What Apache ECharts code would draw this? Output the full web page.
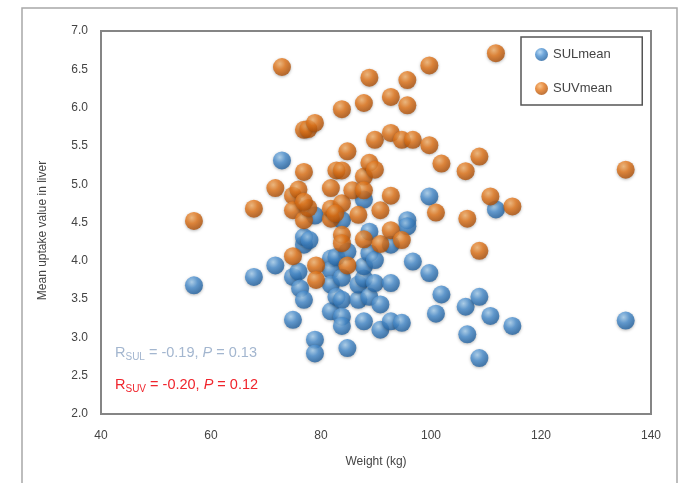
<!DOCTYPE html>
<html>
<head>
<meta charset="utf-8">
<script src="https://cdn.jsdelivr.net/npm/echarts@6/dist/echarts.min.js"></script>
<style>
html,body{margin:0;padding:0;background:#fff;}
#main{width:681px;height:483px;}
</style>
</head>
<body>
<div id="main"></div>
<script>
// 体重 (kg) / SULmean
var sulWeight = [56.9,67.8,71.7,72.9,74.9,74.9,75.9,76.2,76.9,76.9,76.9,77.9,78.9,78.9,78.9,81.8,81.8,81.8,81.8,82.8,82.8,83.8,83.8,83.8,83.8,83.8,84.8,84.8,86.8,86.8,87.8,87.8,87.8,87.8,88.8,88.8,88.8,89.8,89.8,90.8,90.8,92.7,92.7,92.7,94.7,95.7,95.7,96.7,99.7,99.7,100.9,101.9,106.3,106.6,108.8,108.8,110.8,111.8,114.8,135.4];
var sulValue  = [3.68,3.79,3.94,5.31,3.23,3.79,3.86,3.64,3.49,4.21,4.31,4.27,2.97,2.79,4.59,4.03,3.88,3.69,3.34,4.05,3.53,3.49,3.27,3.15,3.78,4.53,2.86,4.12,3.49,3.69,3.21,3.77,3.93,4.80,3.53,4.38,4.10,3.71,4.01,3.10,3.43,3.21,3.71,4.21,3.19,4.53,4.45,3.99,3.84,4.84,3.31,3.56,3.40,3.04,3.53,2.73,3.28,4.67,3.15,3.22];
// 体重 (kg) / SUVmean
var suvWeight = [56.9,67.8,71.7,72.9,74.9,74.9,75.9,74.9,76.9,76.9,77.7,78.9,76.9,77.7,76.9,79.1,79.1,81.8,81.8,81.8,82.8,83.8,83.8,83.8,83.8,83.8,84.8,84.8,85.7,86.8,87.8,87.8,87.8,87.8,88.8,88.8,89.8,89.8,90.8,90.8,92.7,92.7,92.7,92.7,94.7,94.7,95.7,95.7,96.7,99.7,99.7,100.9,101.9,106.3,106.6,108.8,108.8,110.8,111.8,114.8,135.4,82.6];
var suvValue  = [4.52,4.68,4.95,6.53,4.06,4.85,4.93,4.66,5.16,5.71,5.72,5.80,4.53,4.69,4.77,3.94,3.75,4.95,4.55,4.68,5.18,5.18,5.98,4.75,4.34,4.23,5.43,3.94,4.92,4.60,6.06,5.10,4.92,4.28,6.39,5.28,5.58,5.19,4.66,4.22,6.14,5.67,4.85,4.40,5.58,4.27,6.36,6.03,5.58,6.55,5.51,4.63,5.27,5.17,4.55,5.36,4.13,4.84,6.71,4.71,5.19,4.62];

var seriesNames = ['SULmean','SUVmean'];

function toPairs(xs, ys){
	var out = [];
	for(var i=0;i<xs.length;i++){
		out.push([xs[i], ys[i]]);
	}
	return out;
}

function ball(light, mid, dark){
	return {
		type: 'radial', x: 0.38, y: 0.32, r: 0.72,
		colorStops: [
			{offset: 0, color: light},
			{offset: 0.45, color: mid},
			{offset: 1, color: dark}
		]
	};
}
var blueBall = ball('#a9d2f2','#4a8fd0','#1f5e9c');
var orangeBall = ball('#f7b671','#e4761a','#a84d08');

var myChart = echarts.init(document.getElementById('main'));
var option = {
	backgroundColor: '#fff',
	animation: false,
	textStyle: {fontFamily: 'Liberation Sans, Arial, sans-serif'},
	grid: {
		left: 101, right: 30, top: 31, bottom: 69,
		show: true,
		borderColor: '#858585',
		borderWidth: 2
	},
	legend: {
		orient: 'vertical',
		left: 521, top: 37,
		data: [
			{name: seriesNames[0], itemStyle: {color: blueBall}},
			{name: seriesNames[1], itemStyle: {color: orangeBall}}
		],
		icon: 'circle',
		itemWidth: 13, itemHeight: 13,
		itemGap: 21,
		padding: [11, 30, 10, 14],
		borderColor: '#555',
		borderWidth: 1.5,
		textStyle: {color: '#444', fontSize: 13}
	},
	xAxis: {
		type: 'value',
		min: 40, max: 140, interval: 20,
		name: 'Weight (kg)',
		nameLocation: 'middle',
		nameGap: 42,
		nameTextStyle: {color: '#444', fontSize: 12},
		axisLine: {show: false},
		axisTick: {show: false},
		splitLine: {show: false},
		axisLabel: {color: '#444', fontSize: 12, margin: 16}
	},
	yAxis: {
		type: 'value',
		min: 2, max: 7, interval: 0.5,
		name: 'Mean uptake value in liver',
		nameLocation: 'middle',
		nameGap: 52,
		nameTextStyle: {color: '#444', fontSize: 12, padding: [0, 16, 0, 0]},
		axisLine: {show: false},
		axisTick: {show: false},
		splitLine: {show: false},
		axisLabel: {
			color: '#444', fontSize: 12, margin: 13,
			formatter: function(v){ return v.toFixed(1); }
		}
	},
	graphic: [
		{
			type: 'rect',
			shape: {x: 22, y: 8, width: 655, height: 490},
			style: {fill: 'none', stroke: '#a8a8a8', lineWidth: 1.5},
			silent: true, z: -1
		},
		{
			type: 'text', left: 115, top: 345,
			style: {
				text: '{r|R}{s|SUL}{r| = -0.19, }{i|P}{r| = 0.13}',
				rich: {
					r: {fill: '#a3b6cf', fontSize: 14.5},
					s: {fill: '#a3b6cf', fontSize: 10, verticalAlign: 'bottom', padding: [9,0,0,0]},
					i: {fill: '#a3b6cf', fontSize: 14.5, fontStyle: 'italic'}
				}
			}
		},
		{
			type: 'text', left: 115, top: 377,
			style: {
				text: '{r|R}{s|SUV}{r| = -0.20, }{i|P}{r| = 0.12}',
				rich: {
					r: {fill: '#f0252d', fontSize: 14.5},
					s: {fill: '#f0252d', fontSize: 10, verticalAlign: 'bottom', padding: [9,0,0,0]},
					i: {fill: '#f0252d', fontSize: 14.5, fontStyle: 'italic'}
				}
			}
		}
	],
	series: [
		{
			name: seriesNames[0],
			type: 'scatter',
			symbolSize: 18,
			data: toPairs(sulWeight, sulValue),
			itemStyle: {
				color: blueBall,
				shadowBlur: 3,
				shadowColor: 'rgba(0,0,0,0.35)',
				shadowOffsetY: 1
			},
			z: 2
		},
		{
			name: seriesNames[1],
			type: 'scatter',
			symbolSize: 18,
			data: toPairs(suvWeight, suvValue),
			itemStyle: {
				color: orangeBall,
				shadowBlur: 3,
				shadowColor: 'rgba(0,0,0,0.35)',
				shadowOffsetY: 1
			},
			z: 3
		}
	]
};
myChart.setOption(option);
</script>
</body>
</html>
